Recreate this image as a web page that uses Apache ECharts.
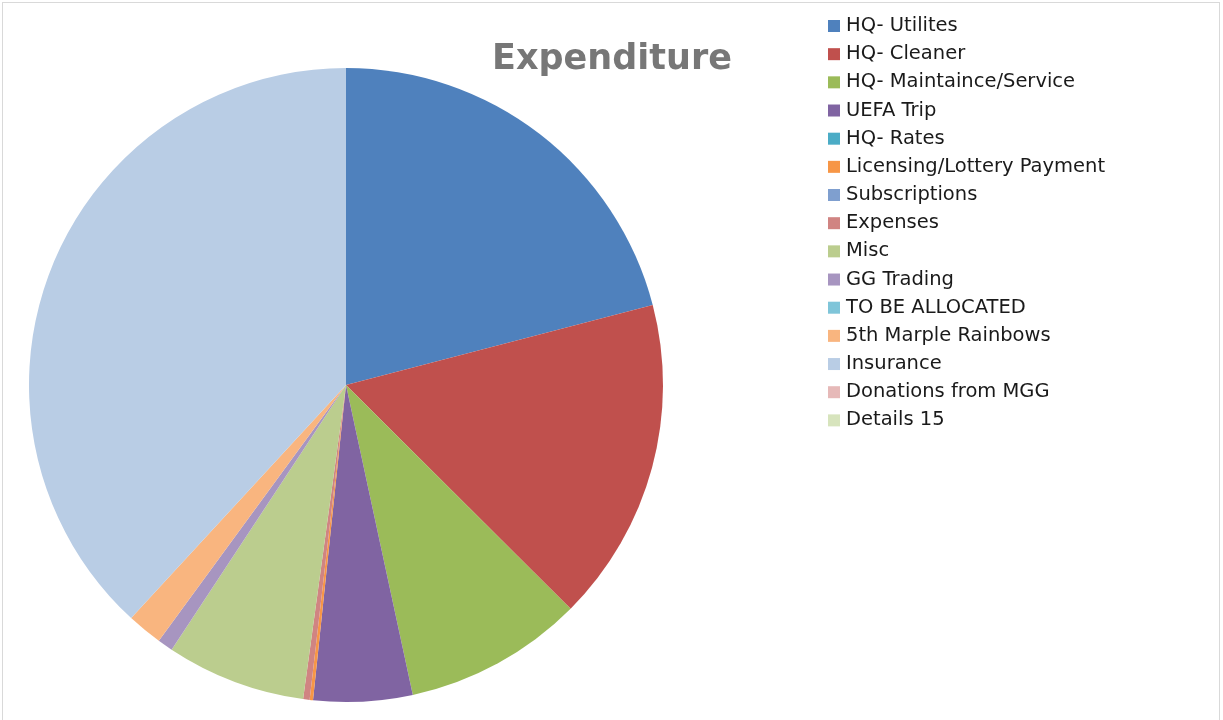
<!DOCTYPE html>
<html>
<head>
<meta charset="utf-8">
<script src="https://cdn.jsdelivr.net/npm/echarts@6/dist/echarts.min.js"></script>
<style>
  html, body { margin: 0; padding: 0; background: #fff; overflow: hidden; }
  #frame { position: absolute; left: 2px; top: 2px; width: 1218px; height: 760px; border: 1px solid #d9d9d9; border-bottom: none; box-sizing: border-box; }
  #chart { position: absolute; left: 0; top: 0; width: 1223px; height: 720px; }
</style>
</head>
<body>
<div id="frame"></div>
<div id="chart"></div>
<script>
const categories = [
  'HQ- Utilites', 'HQ- Cleaner', 'HQ- Maintaince/Service', 'UEFA Trip', 'HQ- Rates',
  'Licensing/Lottery Payment', 'Subscriptions', 'Expenses', 'Misc', 'GG Trading',
  'TO BE ALLOCATED', '5th Marple Rainbows', 'Insurance', 'Donations from MGG', 'Details 15'
];
const values = [2093, 1653, 915, 504, 0, 17, 0, 33, 711, 78, 0, 180, 3814, 0, 0];
const colors = [
  '#4F81BD', '#C0504D', '#9BBB59', '#8064A2', '#4BACC6',
  '#F79646', '#7F9FCF', '#D08482', '#BBCD8E', '#A795C0',
  '#7FC5D9', '#F9B57F', '#B9CDE5', '#E6B9B8', '#D7E4BD'
];
const titleText = 'Expenditure';

const chart = echarts.init(document.getElementById('chart'), null, { renderer: 'canvas' });
chart.setOption({
  animation: false,
  color: colors,
  title: {
    text: titleText,
    left: 487,
    top: 37,
    textStyle: { fontFamily: 'DejaVu Sans', fontSize: 35, fontWeight: 'bold', color: '#777777' }
  },
  legend: {
    orient: 'vertical',
    left: 823,
    top: 11,
    icon: 'rect',
    itemWidth: 12,
    itemHeight: 12,
    itemGap: 8.17,
    selectedMode: false,
    textStyle: { fontFamily: 'DejaVu Sans', fontSize: 19.5, color: '#1a1a1a', padding: [0, 0, 0, 1] },
    data: categories
  },
  series: [{
    type: 'pie',
    center: [346, 385],
    radius: [0, 317],
    startAngle: 90,
    clockwise: true,
    label: { show: false },
    labelLine: { show: false },
    emphasis: { disabled: true },
    itemStyle: { borderWidth: 0 },
    data: categories.map((c, i) => ({ name: c, value: values[i] }))
  }]
});
</script>
</body>
</html>
